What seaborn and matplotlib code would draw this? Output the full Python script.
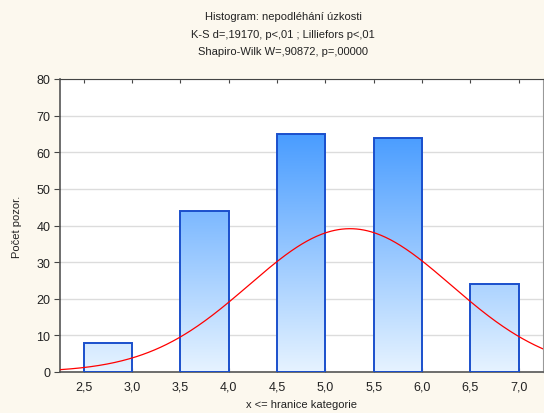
import numpy as np
import pandas as pd
import matplotlib
matplotlib.use("Agg")
import matplotlib.pyplot as plt
import seaborn as sns
from matplotlib.colors import LinearSegmentedColormap

# Category upper bounds (score) and observed counts
scores = [3.0, 4.0, 5.0, 6.0, 7.0]
counts = [8, 44, 65, 64, 24]
bin_edges = [2.5, 3.0, 3.5, 4.0, 4.5, 5.0, 5.5, 6.0, 6.5, 7.0]
x_ticks = [2.5, 3.0, 3.5, 4.0, 4.5, 5.0, 5.5, 6.0, 6.5, 7.0]
y_ticks = [0, 10, 20, 30, 40, 50, 60, 70, 80]
title_lines = [
    "Histogram: nepodléhání úzkosti",
    "K-S d=,19170, p<,01 ; Lilliefors p<,01",
    "Shapiro-Wilk W=,90872, p=,00000",
]
x_label = "x <= hranice kategorie"
y_label = "Počet pozor."

sns.set_theme(style="white")
plt.rcParams["font.family"] = ["Liberation Sans", "DejaVu Sans"]

bg = "#fcf8ee"
fig = plt.figure(figsize=(5.44, 4.14), dpi=100, facecolor=bg)
ax = fig.add_axes([60 / 544, 1 - 373 / 414, 483 / 544, 293 / 414])
ax.set_facecolor("white")

# Histogram; bars sit at the half-unit below each score
df = pd.DataFrame({"x": [s - 0.25 for s in scores], "n": counts})
sns.histplot(data=df, x="x", weights="n", bins=bin_edges, ax=ax,
             stat="count", element="bars", fill=True, linewidth=0)

xlim = (2.255, 7.25)
ylim = (0, 80)
ax.set_xlim(*xlim)
ax.set_ylim(*ylim)

# Vertical gradient fill, clipped to each bar
cmap = LinearSegmentedColormap.from_list("g", ["#e6f3ff", "#2488ff"])
grad = np.linspace(0, 1, 256).reshape(-1, 1)
bars = [p for p in ax.patches if p.get_height() > 0]
for p in bars:
    p.set_facecolor("none")
    p.set_edgecolor("#1a4fcc")
    p.set_linewidth(1.4)
    p.set_zorder(3)
    im = ax.imshow(grad, cmap=cmap, origin="lower", aspect="auto",
                   extent=[xlim[0], xlim[1], 0, 80], zorder=2,
                   interpolation="bilinear")
    im.set_clip_path(p)
for p in [p for p in ax.patches if p.get_height() == 0]:
    p.set_visible(False)

# Expected normal curve from the grouped data
n_total = sum(counts)
mean = np.average(scores, weights=counts)
var = np.sum(np.array(counts) * (np.array(scores) - mean) ** 2) / (n_total - 1)
sd = np.sqrt(var)
xs = np.linspace(xlim[0], xlim[1], 400)
ys = n_total * 0.5 * np.exp(-0.5 * ((xs - mean) / sd) ** 2) / (sd * np.sqrt(2 * np.pi))
sns.lineplot(x=xs, y=ys, ax=ax, color="#ff0000", linewidth=0.9, zorder=4)

ax.set_xticks(x_ticks)
ax.set_xticklabels([f"{t:.1f}".replace(".", ",") for t in x_ticks])
ax.set_yticks(y_ticks)
ax.set_yticklabels([str(t) for t in y_ticks])
ax.yaxis.grid(True, color="#dcdcdc", linewidth=1.0, zorder=0)
ax.set_axisbelow(True)

for side in ["left", "bottom"]:
    ax.spines[side].set_color("#555555")
    ax.spines[side].set_linewidth(1.2)
for side in ["top", "right"]:
    ax.spines[side].set_color("#999999")
    ax.spines[side].set_linewidth(0.8)
ax.spines["top"].set_color("#444444")

ax.tick_params(axis="y", which="both", left=True, right=True, direction="out",
               length=4, width=0.8, color="#444444", labelsize=9, pad=3,
               labelcolor="#222222")
ax.tick_params(axis="x", which="both", bottom=True, top=True, direction="in",
               length=3, width=0.8, color="#444444", labelsize=9, pad=6,
               labelcolor="#222222")

ax.set_xlabel(x_label, fontsize=8, color="#222222", labelpad=5)
ax.set_ylabel(y_label, fontsize=8, color="#222222", labelpad=10)

for i, line in enumerate(title_lines):
    fig.text(283 / 544, 1 - (17 + 17.5 * i) / 414, line, ha="center",
             va="center", fontsize=8, color="#222222")

fig.savefig("out.png", dpi=100, facecolor=bg)
